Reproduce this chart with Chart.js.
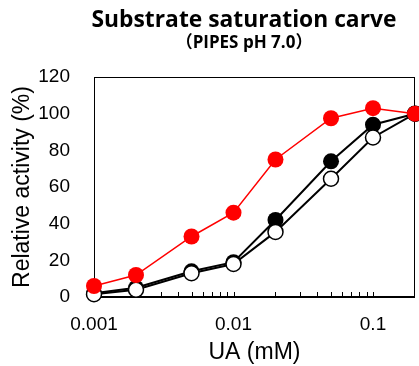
<!DOCTYPE html>
<html>
<head>
<meta charset="utf-8">
<script src="https://cdn.jsdelivr.net/npm/chart.js@4"></script>
<style>
  body { margin: 0; background: #fff; }
  #wrap { position: relative; width: 419px; height: 366px; }
  .ttl { position: absolute; left: 0; width: 100%; text-align: center; font-family: "Open Sans", "Noto Sans CJK JP", sans-serif; font-weight: bold; color: #000; padding-left: 69px; box-sizing: border-box; white-space: nowrap; line-height: 1; }
  #t1 { top: 8px; font-size: 22.8px; }
  #t2 { top: 32px; font-size: 17px; }
  .fw { font-family: "Noto Sans CJK JP"; }
</style>
</head>
<body>
<div id="wrap">
  <canvas id="canvas" width="419" height="366"></canvas>
  <div class="ttl" id="t1">Substrate saturation carve</div>
  <div class="ttl" id="t2"><span class="fw">（</span>PIPES pH 7.0<span class="fw">）</span></div>
</div>
<script>
// UA concentration (mM)
var conc = [0.001, 0.002, 0.005, 0.01, 0.02, 0.05, 0.1, 0.2];
// relative activity (%)
var redAct = [6, 12, 33, 46, 75, 97.5, 103, 100];
var blackAct = [2, 5, 14, 19, 42, 74, 94, 100];
var openAct = [1.5, 4, 13, 18, 35.5, 64.5, 87, 100];
var xLabels = [0.001, 0.01, 0.1];
var yTicks = [0, 20, 40, 60, 80, 100, 120];
var minorX = [0.002, 0.003, 0.004, 0.005, 0.006, 0.007, 0.008, 0.009, 0.01,
              0.02, 0.03, 0.04, 0.05, 0.06, 0.07, 0.08, 0.09, 0.1];

function pts(arr) {
    return arr.map(function (v, i) { return { x: conc[i], y: v }; });
}

// box around plot and inward minor ticks on the x axis (drawn under the points)
var framePlugin = {
    id: 'frame',
    beforeDatasetsDraw: function (chart) {
        var ctx = chart.ctx, a = chart.chartArea, xs = chart.scales.x;
        ctx.save();
        ctx.strokeStyle = '#000';
        ctx.lineWidth = 1;
        ctx.strokeRect(a.left + 0.5, a.top + 0.5, a.right - a.left - 1, a.bottom - a.top);
        ctx.lineWidth = 2;
        ctx.beginPath();
        ctx.moveTo(a.left, a.bottom);
        ctx.lineTo(a.right, a.bottom);
        ctx.stroke();
        ctx.lineWidth = 1;
        ctx.beginPath();
        minorX.forEach(function (v) {
            var px = Math.round(xs.getPixelForValue(v)) + 0.5;
            ctx.moveTo(px, a.bottom);
            ctx.lineTo(px, a.bottom - 5);
        });
        ctx.stroke();
        ctx.restore();
    }
};

var myChart = new Chart(document.getElementById('canvas'), {
    type: 'line',
    data: {
        datasets: [
            {
                label: 'red',
                data: pts(redAct),
                borderColor: '#ff0000',
                backgroundColor: '#ff0000',
                borderWidth: 1.5,
                pointRadius: 8,
                pointBorderWidth: 0,
                pointBackgroundColor: '#ff0000',
                clip: false
            },
            {
                label: 'open',
                data: pts(openAct),
                borderColor: '#000',
                borderWidth: 2,
                pointRadius: 7.5,
                pointBorderWidth: 1.5,
                pointBorderColor: '#000',
                pointBackgroundColor: '#fff',
                clip: false
            },
            {
                label: 'black',
                data: pts(blackAct),
                borderColor: '#000',
                borderWidth: 2,
                pointRadius: 8,
                pointBorderWidth: 0,
                pointBackgroundColor: '#000',
                clip: false
            }
        ]
    },
    options: {
        responsive: false,
        animation: false,
        layout: { autoPadding: false, padding: { top: 77, left: 9, right: 4, bottom: 0 } },
        elements: { line: { tension: 0 } },
        plugins: {
            legend: { display: false },
            tooltip: { enabled: false }
        },
        scales: {
            x: {
                type: 'logarithmic',
                min: 0.001,
                max: 0.2,
                grid: { display: false, drawTicks: false },
                border: { display: false },
                afterBuildTicks: function (axis) {
                    axis.ticks = xLabels.map(function (v) { return { value: v }; });
                },
                afterFit: function (axis) {
                    axis.height = 69;
                    axis.paddingLeft = 0;
                    axis.paddingRight = 0;
                },
                ticks: {
                    autoSkip: false,
                    maxRotation: 0,
                    padding: 16,
                    color: '#000',
                    font: { family: 'Liberation Sans', size: 19 },
                    callback: function (v) { return String(v); }
                },
                title: {
                    display: true,
                    text: 'UA (mM)',
                    color: '#000',
                    font: { family: 'Liberation Sans', size: 23 },
                    padding: { top: 0, bottom: 0 }
                }
            },
            y: {
                min: 0,
                max: 120,
                grid: { display: false, drawTicks: false },
                border: { display: false },
                afterBuildTicks: function (axis) {
                    axis.ticks = yTicks.map(function (v) { return { value: v }; });
                },
                afterFit: function (axis) {
                    axis.width = 85;
                    axis.paddingTop = 0;
                    axis.paddingBottom = 0;
                },
                ticks: {
                    padding: 24,
                    color: '#000',
                    font: { family: 'Liberation Sans', size: 19 }
                },
                title: {
                    display: true,
                    text: 'Relative activity (%)',
                    color: '#000',
                    font: { family: 'Liberation Sans', size: 23 },
                    padding: { top: 0, bottom: 0 }
                }
            }
        }
    },
    plugins: [framePlugin]
});
</script>
</body>
</html>
